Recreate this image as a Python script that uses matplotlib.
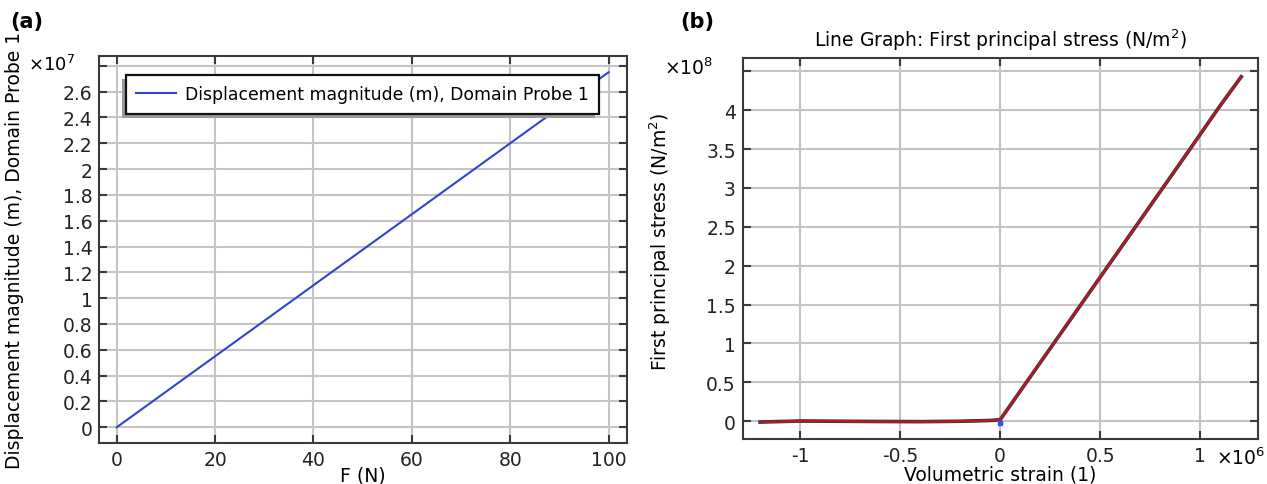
import numpy as np
import matplotlib
matplotlib.use("Agg")
import matplotlib.pyplot as plt
import matplotlib.patheffects as pe

# --- data ---
force_n = [0, 10, 20, 30, 40, 50, 60, 70, 80, 90, 100]
disp_e7 = [0, 0.275, 0.55, 0.825, 1.10, 1.375, 1.65, 1.925, 2.20, 2.475, 2.75]

strain_e6 = [-1.20, -1.0, -0.8, -0.6, -0.4, -0.2, -0.05, 0.0, 0.3, 0.6, 0.9, 1.1, 1.205]
stress_e8 = [-0.01, 0.003, 0.0, -0.003, -0.005, 0.0, 0.01, 0.02, 1.12, 2.22, 3.32, 4.06, 4.43]

a_xticks = [0, 20, 40, 60, 80, 100]
a_yticks = [0, 0.2, 0.4, 0.6, 0.8, 1, 1.2, 1.4, 1.6, 1.8, 2, 2.2, 2.4, 2.6, 2.8]
b_xticks = [-1, -0.5, 0, 0.5, 1]
b_yticks = [0, 0.5, 1, 1.5, 2, 2.5, 3, 3.5, 4, 4.5]

plt.rcParams['font.family'] = ['DejaVu Sans']
FS = 13.5
GRID = '#c4c4c4'
SPINE = '#3a3a3a'


def style_axes(ax, xticks, yticks, hide_y=()):
    ax.set_xticks(xticks)
    ax.set_yticks(yticks)
    ax.set_xticklabels(['%g' % v for v in xticks], fontsize=FS, color='#222222')
    ax.set_yticklabels(['' if v in hide_y else '%g' % v for v in yticks],
                       fontsize=FS, color='#222222')
    ax.grid(True, color=GRID, linewidth=1.5)
    ax.set_axisbelow(True)
    ax.tick_params(direction='in', length=6, width=1.5, color=SPINE,
                   top=True, right=True, pad=5)
    for sp in ax.spines.values():
        sp.set_color(SPINE)
        sp.set_linewidth(1.5)


fig = plt.figure(figsize=(12.67, 4.85), dpi=100)

# --- panel (a) ---
ax1 = fig.add_axes([0.0784, 0.0845, 0.4163, 0.7986])
ax1.plot(force_n, disp_e7, color='#3344cc', linewidth=1.5,
         label='Displacement magnitude (m), Domain Probe 1')
ax1.set_xlim(-3.54, 103.7)
ax1.set_ylim(-0.122, 2.878)
style_axes(ax1, a_xticks, a_yticks, hide_y=(2.8,))
ax1.set_xlabel('F (N)', fontsize=FS)
ax1.xaxis.set_label_coords(0.5, -0.058)
ax1.set_ylabel('Displacement magnitude (m), Domain Probe 1', fontsize=FS)
ax1.yaxis.set_label_coords(-0.143, 0.5)
ax1.text(-0.135, 0.979, r'$\times$10$^7$', transform=ax1.transAxes, fontsize=13,
         ha='left', va='center')
leg = ax1.legend(loc='upper left', bbox_to_anchor=(0.05, 0.95), fontsize=12.4,
                 frameon=True, fancybox=False, shadow=False, framealpha=1,
                 handlelength=2.3, handletextpad=0.55, borderpad=0.6,
                 borderaxespad=0)
frame = leg.get_frame()
frame.set_facecolor('white')
frame.set_edgecolor('#111111')
frame.set_linewidth(1.6)
frame.set_path_effects([pe.SimplePatchShadow(offset=(-3, -3), shadow_rgbFace='#9a9a9a', alpha=1.0),
                        pe.Normal()])
fig.text(0.008, 0.955, '(a)', fontsize=15, fontweight='bold', va='center')

# --- panel (b) ---
ax2 = fig.add_axes([0.5862, 0.0928, 0.4069, 0.7849])
ax2.plot(strain_e6, stress_e8, color='#2a2a55', linewidth=2.6)
ax2.plot(strain_e6, stress_e8, color='#b01c1c', linewidth=1.8)
ax2.plot([0], [-0.02], 's', color='#3355ee', markersize=2.5)
ax2.set_xlim(-1.287, 1.29)
ax2.set_ylim(-0.228, 4.667)
style_axes(ax2, b_xticks, b_yticks, hide_y=(4.5,))
ax2.set_xlabel('Volumetric strain (1)', fontsize=FS)
ax2.xaxis.set_label_coords(0.5, -0.066)
ax2.set_ylabel(r'First principal stress (N/m$^2$)', fontsize=FS)
ax2.yaxis.set_label_coords(-0.135, 0.52)
ax2.set_title(r'Line Graph: First principal stress (N/m$^2$)', fontsize=FS, pad=9)
ax2.text(-0.057, 0.977, r'$\times$10$^8$', transform=ax2.transAxes, fontsize=FS,
         ha='right', va='center')
ax2.text(1.013, -0.047, r'$\times$10$^6$', transform=ax2.transAxes, fontsize=FS,
         ha='right', va='center')
fig.text(0.537, 0.955, '(b)', fontsize=15, fontweight='bold', va='center')

fig.savefig('out.png', dpi=100)
